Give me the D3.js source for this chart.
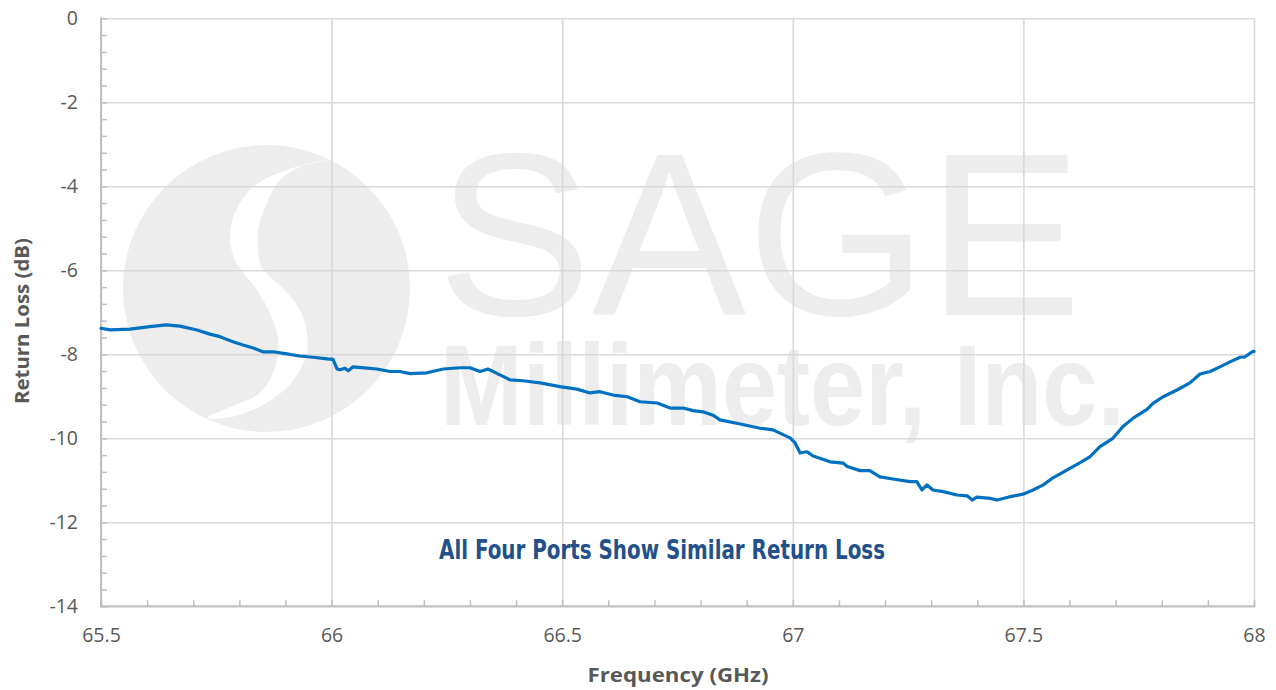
<!DOCTYPE html>
<html>
<head>
<meta charset="utf-8">
<script src="https://cdn.jsdelivr.net/npm/d3@7"></script>
<style>
  html, body { margin: 0; padding: 0; background: #fff; }
  svg { display: block; }
</style>
</head>
<body>
<svg id="chart" width="1276" height="690"></svg>
<script>
// ---------------- data ----------------
const freqGHz = [
  65.500, 65.520, 65.563, 65.606, 65.642, 65.671, 65.708, 65.736, 65.758, 65.786,
  65.808, 65.830, 65.851, 65.873, 65.903, 65.931, 65.960, 65.990, 66.003, 66.012,
  66.018, 66.029, 66.036, 66.046, 66.077, 66.098, 66.127, 66.148, 66.170, 66.207,
  66.242, 66.278, 66.300, 66.322, 66.339, 66.365, 66.387, 66.415, 66.452, 66.495,
  66.532, 66.560, 66.582, 66.610, 66.641, 66.669, 66.706, 66.734, 66.762, 66.784,
  66.805, 66.827, 66.842, 66.886, 66.929, 66.957, 66.994, 67.005, 67.016, 67.031,
  67.044, 67.081, 67.109, 67.118, 67.146, 67.167, 67.189, 67.217, 67.254, 67.269,
  67.280, 67.291, 67.304, 67.326, 67.356, 67.378, 67.389, 67.399, 67.428, 67.443,
  67.471, 67.499, 67.521, 67.543, 67.564, 67.595, 67.623, 67.644, 67.666, 67.694,
  67.716, 67.738, 67.768, 67.781, 67.803, 67.833, 67.861, 67.883, 67.905, 67.926,
  67.948, 67.970, 67.981, 67.996, 68.000
];
const returnLossDb = [
  -7.38, -7.42, -7.40, -7.34, -7.30, -7.33, -7.42, -7.52, -7.58, -7.70,
  -7.78, -7.85, -7.94, -7.94, -7.99, -8.04, -8.07, -8.11, -8.12, -8.35,
  -8.37, -8.33, -8.39, -8.30, -8.33, -8.35, -8.41, -8.41, -8.46, -8.44,
  -8.35, -8.32, -8.32, -8.41, -8.35, -8.49, -8.61, -8.63, -8.68, -8.77,
  -8.83, -8.92, -8.89, -8.97, -9.01, -9.13, -9.16, -9.28, -9.28, -9.34,
  -9.37, -9.45, -9.56, -9.66, -9.76, -9.80, -9.99, -10.11, -10.35, -10.32,
  -10.42, -10.56, -10.59, -10.67, -10.77, -10.77, -10.92, -10.97, -11.03, -11.03,
  -11.23, -11.11, -11.23, -11.27, -11.35, -11.37, -11.47, -11.40, -11.43, -11.47,
  -11.39, -11.33, -11.23, -11.11, -10.94, -10.75, -10.58, -10.44, -10.20, -10.00,
  -9.72, -9.52, -9.31, -9.17, -9.01, -8.85, -8.68, -8.47, -8.41, -8.30,
  -8.18, -8.07, -8.06, -7.94, -7.93
];
const xTicks = [65.5, 66, 66.5, 67, 67.5, 68];
const xTickLabels = ["65.5", "66", "66.5", "67", "67.5", "68"];
const yTicks = [0, -2, -4, -6, -8, -10, -12, -14];
const yTickLabels = ["0", "-2", "-4", "-6", "-8", "-10", "-12", "-14"];
const xMinorTicks = d3.range(65.5, 68.0001, 0.1).map(v => +v.toFixed(2));
const yMinorTicks = d3.range(-14, 0.0001, 0.4).map(v => +v.toFixed(2));
const xTitle = "Frequency (GHz)";
const yTitle = "Return Loss (dB)";
const note = "All Four Ports Show Similar Return Loss";
const wmBig = "SAGE";
const wmSmall = "Millimeter, Inc.";

(function () {
// ---------------- layout ----------------
const svg = d3.select("#chart");
const pL = 101, pR = 1254, pT = 18.3, pB = 606.3;
const x = d3.scaleLinear().domain([65.5, 68]).range([pL, pR]);
const y = d3.scaleLinear().domain([-14, 0]).range([pB, pT]);

const wm = "#ededed";
const fontTick = "'Open Sans', 'Liberation Sans', sans-serif";
const labelColor = "#595959";

// ---------------- watermark ----------------
const wmg = svg.append("g");
const cx = 266.5, cy = 288.5, r = 143.5;
wmg.append("circle").attr("cx", cx).attr("cy", cy).attr("r", r).attr("fill", wm);
const sShape = [
  [0.44,-0.895],[0.143,-0.826],[-0.094,-0.707],[-0.22,-0.526],[-0.254,-0.359],[-0.22,-0.199],
  [-0.066,0.01],[0.024,0.171],[0.073,0.31],[0.08,0.449],[0.045,0.589],[-0.045,0.728],
  [-0.254,0.826],[-0.415,0.902],[-0.230,0.892],[-0.020,0.808],[0.163,0.669],[0.267,0.498],
  [0.288,0.359],[0.233,0.150],[0.125,0.01],[-0.031,-0.143],[-0.059,-0.268],[-0.059,-0.408],
  [0.003,-0.596],[0.094,-0.756],[0.268,-0.861]
];
wmg.append("path")
  .attr("d", d3.line().curve(d3.curveCatmullRomClosed)(sShape.map(p => [cx + p[0]*r, cy + p[1]*r])))
  .attr("fill", "#fff");
wmg.append("text").text(wmBig)
  .attr("x", 437).attr("y", 315)
  .attr("font-family", "'Liberation Sans', Arial, sans-serif")
  .attr("font-size", 232)
  .attr("textLength", 645).attr("lengthAdjust", "spacingAndGlyphs")
  .attr("fill", wm);
wmg.append("text").text(wmSmall)
  .attr("x", 440).attr("y", 425)
  .attr("font-family", "'Liberation Sans', Arial, sans-serif")
  .attr("font-weight", "bold")
  .attr("font-size", 115)
  .attr("textLength", 685).attr("lengthAdjust", "spacingAndGlyphs")
  .attr("fill", wm);

// ---------------- grid ----------------
const gridColor = "#d9d9d9";
const gy = svg.append("g").attr("transform", `translate(${pL},0)`)
  .call(d3.axisLeft(y).tickValues(yTicks).tickSize(-(pR - pL)).tickFormat(""));
gy.select(".domain").remove();
gy.selectAll("line").attr("stroke", gridColor).attr("stroke-width", 1.6);

const gx = svg.append("g").attr("transform", `translate(0,${pB})`)
  .call(d3.axisBottom(x).tickValues(xTicks).tickSize(-(pB - pT)).tickFormat(""));
gx.select(".domain").remove();
gx.selectAll("line").attr("stroke", gridColor).attr("stroke-width", 1.6);

// ---------------- axes ----------------
const axisColor = "#bfbfbf";
const my = svg.append("g").attr("transform", `translate(${pL},0)`)
  .call(d3.axisLeft(y).tickValues(yMinorTicks).tickSize(-6).tickFormat(""));
my.select(".domain").remove();
my.selectAll("line").attr("stroke", axisColor).attr("stroke-width", 1.5);
const mx = svg.append("g").attr("transform", `translate(0,${pB})`)
  .call(d3.axisBottom(x).tickValues(xMinorTicks).tickSize(-6).tickFormat(""));
mx.select(".domain").remove();
mx.selectAll("line").attr("stroke", axisColor).attr("stroke-width", 1.5);

svg.append("line").attr("x1", pL).attr("x2", pL).attr("y1", pT - 1).attr("y2", pB + 1)
  .attr("stroke", axisColor).attr("stroke-width", 2);
svg.append("line").attr("x1", pL - 1).attr("x2", pR + 1).attr("y1", pB).attr("y2", pB)
  .attr("stroke", axisColor).attr("stroke-width", 2);

const ly = svg.append("g").attr("transform", `translate(${pL},0)`)
  .call(d3.axisLeft(y).tickValues(yTicks).tickSize(0).tickPadding(23).tickFormat((d, i) => yTickLabels[i]));
ly.select(".domain").remove();
ly.selectAll("text").attr("font-family", fontTick).attr("font-size", 19.5).attr("fill", labelColor);

const lx = svg.append("g").attr("transform", `translate(0,${pB})`)
  .call(d3.axisBottom(x).tickValues(xTicks).tickSize(0).tickPadding(22).tickFormat((d, i) => xTickLabels[i]));
lx.select(".domain").remove();
lx.selectAll("text").attr("font-family", fontTick).attr("font-size", 19.5).attr("fill", labelColor);

svg.append("text").text(xTitle)
  .attr("x", (pL + pR) / 2 - 90).attr("y", 682)
  .attr("font-family", fontTick).attr("font-weight", "bold").attr("font-size", 20)
  .attr("textLength", 181).attr("lengthAdjust", "spacingAndGlyphs")
  .attr("fill", labelColor);
svg.append("text").text(yTitle)
  .attr("transform", `translate(29,${321 + 83}) rotate(-90)`)
  .attr("font-family", fontTick).attr("font-weight", "bold").attr("font-size", 20)
  .attr("textLength", 166).attr("lengthAdjust", "spacingAndGlyphs")
  .attr("fill", labelColor);

// ---------------- series ----------------
const pts = freqGHz.map((f, i) => [f, returnLossDb[i]]);
svg.append("path")
  .datum(pts)
  .attr("d", d3.line().x(d => x(d[0])).y(d => y(d[1])))
  .attr("fill", "none")
  .attr("stroke", "#0070c0")
  .attr("stroke-width", 3.2)
  .attr("stroke-linejoin", "round")
  .attr("stroke-linecap", "round");

// ---------------- annotation ----------------
svg.append("text").text(note)
  .attr("x", 439).attr("y", 559)
  .attr("font-family", "'Liberation Sans Narrow', 'DejaVu Sans Condensed', 'Open Sans', sans-serif")
  .attr("font-weight", "bold")
  .attr("font-size", 27)
  .attr("textLength", 446).attr("lengthAdjust", "spacingAndGlyphs")
  .attr("fill", "#22508a");
})();
</script>
</body>
</html>
